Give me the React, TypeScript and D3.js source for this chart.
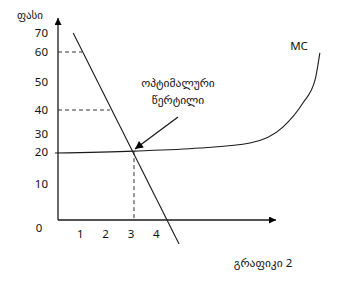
import React from "react";
import * as d3 from "d3";

// ---- data ----
const yTickValues = [0, 10, 20, 30, 40, 50, 60, 70];
const yTickLabels = ["0", "10", "20", "30", "40", "50", "60", "70"];
const xTickValues = [1, 2, 3, 4];
const xTickLabels = ["1", "2", "3", "4"];
// demand line (quantity, price)
const demandQ = [0.6, 4.78];
const demandP = [70, -6.7];
// marginal cost curve
const mcQ = [-0.12, 3, 5.6, 7.58, 8.88, 9.67, 10.15, 10.34];
const mcP = [19.7, 20.5, 22.2, 25, 32.9, 42.5, 50.7, 59.7];
// dashed guides from price axis to demand
const guideP = [60, 40];
const guideQ = [0.95, 2.05];
// optimum point
const optQ = 3;
const optP = 20.5;
// annotation arrow tail
const noteQ = 4.74;
const noteP = 37.1;

const yAxisLabel = "ფასი";
const xCaption = "გრაფიკი 2";
const mcLabel = "MC";
const noteLines = ["ოპტიმალური", "წერტილი"];

export default function App() {
  const W = 338;
  const H = 290;
  const x = d3.scaleLinear().domain([0, 4]).range([58, 159.3]);
  // hand-drawn, uneven price axis
  const y = d3
    .scaleLinear()
    .domain(yTickValues)
    .range([220, 184, 152, 134, 110, 82, 52, 33]);

  const lineGen = d3
    .line<[number, number]>()
    .x((d) => x(d[0]))
    .y((d) => y(d[1]));
  const mcGen = d3
    .line<[number, number]>()
    .x((d) => x(d[0]))
    .y((d) => y(d[1]))
    .curve(d3.curveMonotoneX);

  const demand: [number, number][] = demandQ.map((q, i) => [q, demandP[i]]);
  const mc: [number, number][] = mcQ.map((q, i) => [q, mcP[i]]);
  const stroke = "#1a1a1a";
  const font = "'Noto Sans', 'DejaVu Sans', sans-serif";

  const x0 = x(0);
  const y0 = y(0);

  return (
    <svg
      width={W}
      height={H}
      style={{ position: "absolute", left: 0, top: 0, background: "#fff" }}
      fontFamily={font}
    >
      <defs>
        <marker id="axArrow" viewBox="0 0 10 10" refX="10" refY="5" markerWidth="9" markerHeight="7" markerUnits="userSpaceOnUse" orient="auto">
          <path d="M0,0 L10,5 L0,10 z" fill="#000" />
        </marker>
        <marker id="noteArrow" viewBox="0 0 10 10" refX="10" refY="5" markerWidth="11" markerHeight="8" markerUnits="userSpaceOnUse" orient="auto">
          <path d="M0,0 L10,5 L0,10 z" fill="#000" />
        </marker>
      </defs>

      {/* axes */}
      <line x1={x0} y1={y0} x2={x0} y2={18} stroke={stroke} strokeWidth={1.3} markerEnd="url(#axArrow)" />
      <line x1={x0} y1={y0} x2={276} y2={y0} stroke={stroke} strokeWidth={1.3} markerEnd="url(#axArrow)" />

      {/* y tick labels */}
      {yTickValues.map((v, i) =>
        v === 0 ? (
          <text key={v} x={x0 - 19} y={y0 + 8} dy="0.35em" fontSize={11.5} textAnchor="middle" fill="#111">
            {yTickLabels[i]}
          </text>
        ) : (
          <text key={v} x={x0 - 10} y={y(v)} dy="0.35em" fontSize={11.5} textAnchor="end" fill="#111">
            {yTickLabels[i]}
          </text>
        )
      )}
      {/* x tick labels */}
      {xTickValues.map((v, i) => (
        <text key={v} x={x(v) - 3} y={y0 + 14} dy="0.35em" fontSize={11.5} textAnchor="middle" fill="#111">
          {xTickLabels[i]}
        </text>
      ))}

      {/* dashed guides */}
      {guideP.map((p, i) => (
        <line key={p} x1={x0} y1={y(p)} x2={x(guideQ[i])} y2={y(p)} stroke="#333" strokeWidth={1} strokeDasharray="4,3" />
      ))}
      <line x1={x(optQ)} y1={y(optP)} x2={x(optQ)} y2={y0} stroke="#333" strokeWidth={1} strokeDasharray="4,3" />

      {/* demand */}
      <path d={lineGen(demand) || ""} fill="none" stroke={stroke} strokeWidth={1.1} />
      {/* MC */}
      <path d={mcGen(mc) || ""} fill="none" stroke={stroke} strokeWidth={1.1} />

      {/* annotation arrow */}
      <line x1={x(noteQ)} y1={y(noteP)} x2={x(optQ) + 1} y2={y(optP) - 2} stroke={stroke} strokeWidth={1.3} markerEnd="url(#noteArrow)" />

      {/* texts */}
      <text x={30} y={15} dy="0.35em" fontSize={11} textAnchor="middle" fill="#111">{yAxisLabel}</text>
      <text x={299} y={46} dy="0.35em" fontSize={11.5} textAnchor="middle" fill="#111">{mcLabel}</text>
      {noteLines.map((t, i) => (
        <text key={t} x={178} y={83 + i * 17} dy="0.35em" fontSize={11.5} textAnchor="middle" fill="#111">{t}</text>
      ))}
      <text x={263} y={263} dy="0.35em" fontSize={11.5} textAnchor="middle" fill="#111">{xCaption}</text>
    </svg>
  );
}
